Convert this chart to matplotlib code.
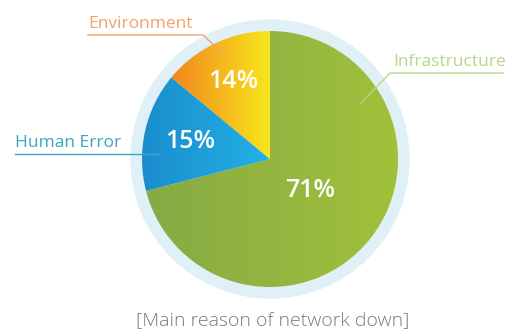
import numpy as np
import matplotlib
matplotlib.use("Agg")
import matplotlib.pyplot as plt
from matplotlib.colors import LinearSegmentedColormap

# causes of outage, clockwise from 12 o'clock
labels = ["Infrastructure", "Human Error", "Environment"]
shares = [71, 15, 14]
grad_left = ["#86aa45", "#1b8ccd", "#f2861f"]
grad_right = ["#a1c13a", "#22b2e6", "#f8e61c"]
label_colors = ["#b5d78a", "#3aa6bf", "#f5a166"]
title = "[Main reason of network down]"

plt.rcParams["font.family"] = ["Open Sans", "DejaVu Sans"]

W, H = 506, 335
fig = plt.figure(figsize=(W / 100, H / 100), dpi=100)
ax = fig.add_axes([0, 0, 1, 1])
ax.set_xlim(0, W)
ax.set_ylim(0, H)
ax.axis("off")

cx, cy, r = 270, 176, 128

# pale ring behind the pie
ax.add_patch(plt.Circle((cx, cy), r + 11, color="#dff0f7", zorder=0))

wedges, _ = ax.pie(shares, startangle=90, counterclock=False,
                   center=(cx, cy), radius=r, frame=True,
                   wedgeprops=dict(linewidth=0))
ax.set_xlim(0, W)
ax.set_ylim(0, H)
ax.axis("off")

# horizontal gradient fill for each slice
for w, c0, c1 in zip(wedges, grad_left, grad_right):
    verts = w.get_path().vertices
    x0, x1 = verts[:, 0].min(), verts[:, 0].max()
    y0, y1 = verts[:, 1].min(), verts[:, 1].max()
    w.set_facecolor("none")
    cmap = LinearSegmentedColormap.from_list("g", [c0, c1])
    img = ax.imshow(np.linspace(0, 1, 256)[None, :], cmap=cmap,
                    extent=(x0, x1, y0, y1), aspect="auto", zorder=1,
                    interpolation="bilinear")
    img.set_clip_path(w)

# percentage labels on the slices
pct_dist = [0.40, 0.64, 0.67]
for w, v, d in zip(wedges, shares, pct_dist):
    mid = np.deg2rad((w.theta1 + w.theta2) / 2)
    ax.text(cx + d * r * np.cos(mid), cy + d * r * np.sin(mid), f"{v}%",
            color="white", fontsize=18, fontweight="semibold",
            ha="center", va="center", zorder=3)

# callout labels with leader lines
# Infrastructure
ax.plot([361, 390, 503], [H - 103, H - 73, H - 73], color=label_colors[0], lw=1, zorder=2)
ax.text(393, H - 70, labels[0], color=label_colors[0], fontsize=12.5, ha="left", va="bottom")
# Human Error
ax.plot([15, 160], [H - 154, H - 154], color=label_colors[1], lw=1, zorder=2)
ax.text(15, H - 151, labels[1], color=label_colors[1], fontsize=12.5, ha="left", va="bottom")
# Environment
ax.plot([88, 203, 227], [H - 35, H - 35, H - 57], color=label_colors[2], lw=1, zorder=2)
ax.text(88, H - 32, labels[2], color=label_colors[2], fontsize=12.5, ha="left", va="bottom")

ax.text(273, H - 320, title, color="#7a7a7a", fontsize=14, fontweight="light",
        ha="center", va="center")

fig.savefig("out.png", dpi=100)
